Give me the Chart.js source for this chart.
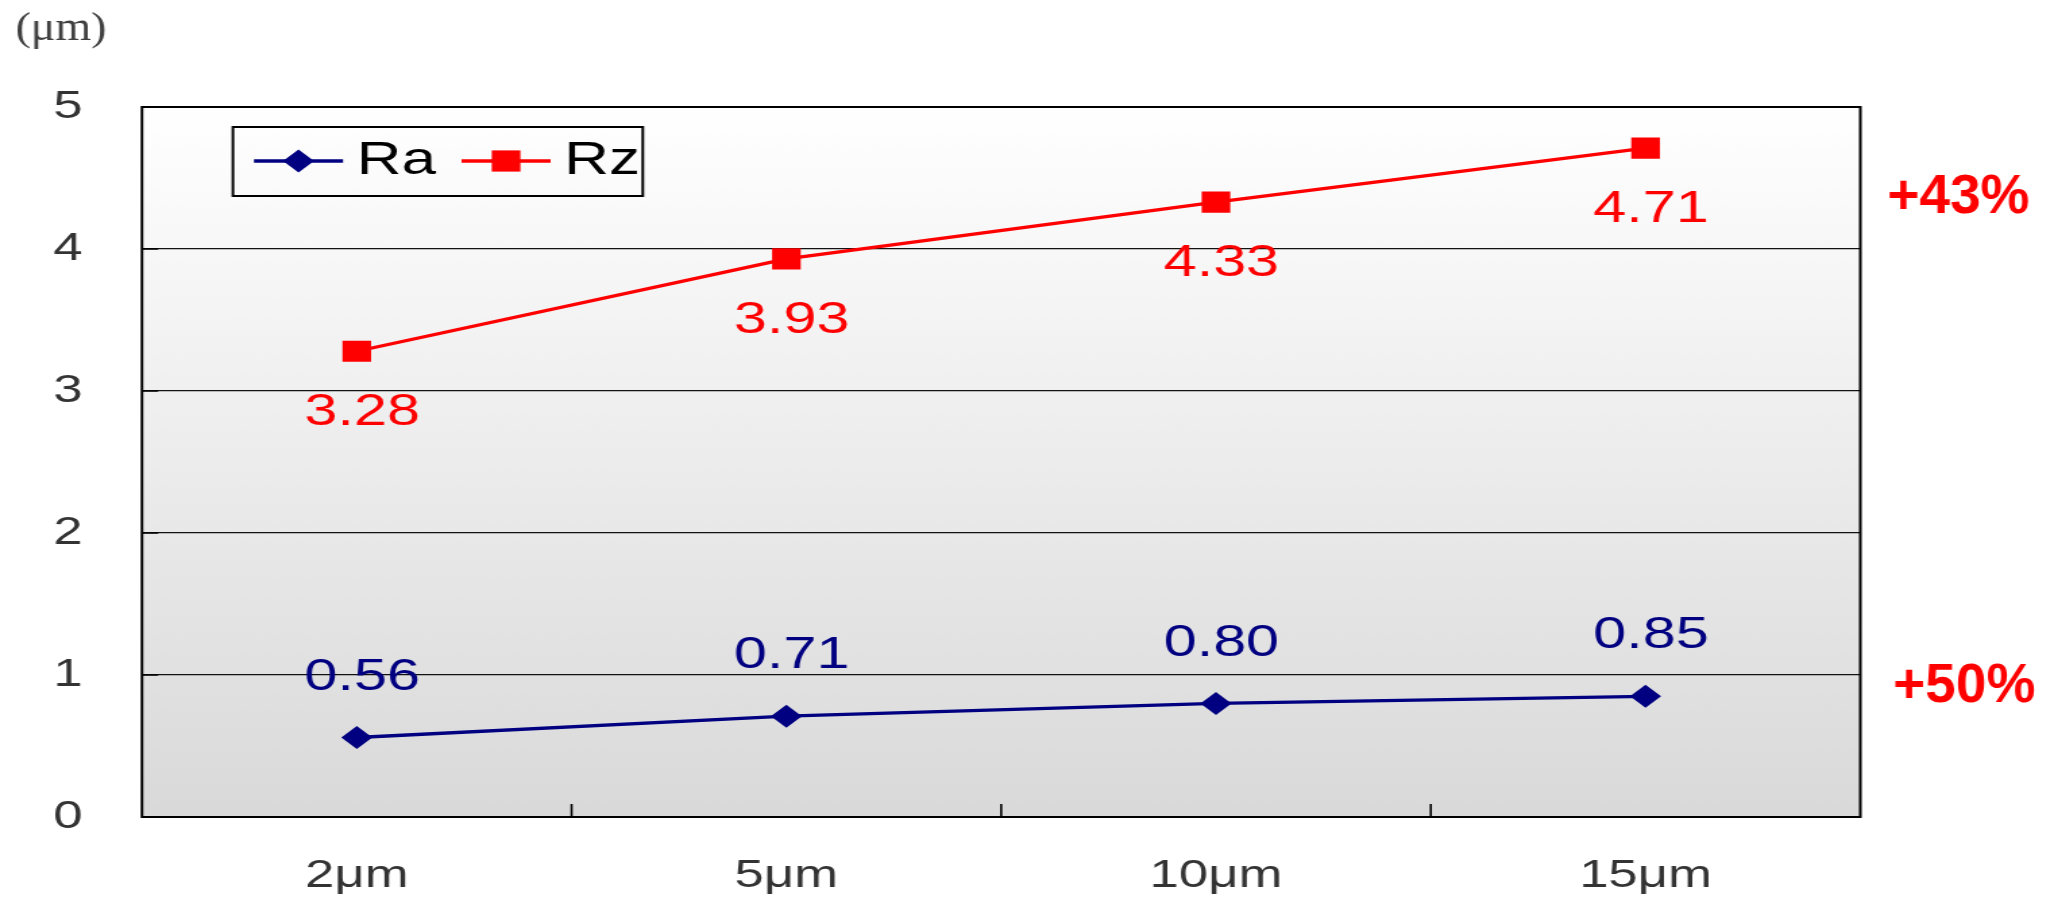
<!DOCTYPE html>
<html>
<head>
<meta charset="utf-8">
<script src="https://cdn.jsdelivr.net/npm/chart.js@4.4.1/dist/chart.umd.min.js"></script>
<style>
  html, body { margin: 0; padding: 0; background: #ffffff; overflow: hidden; }
  /* the chart is laid out on a narrower canvas and widened horizontally */
  #wrap { width: 1522px; height: 900px; transform: scaleX(1.34954); transform-origin: 0 0; }
</style>
</head>
<body>
<div id="wrap"><canvas id="c" width="1522" height="900"></canvas></div>
<script>
// ---- data ----
const categories = ['2μm', '5μm', '10μm', '15μm'];
const raValues = [0.56, 0.71, 0.80, 0.85];
const rzValues = [3.28, 3.93, 4.33, 4.71];
const yTicks = [0, 1, 2, 3, 4, 5];
const seriesNames = ['Ra', 'Rz'];
const changeLabels = ['+50%', '+43%'];   // Ra, Rz: change from first to last step
const unitLabel = '(μm)';

// ---- styling ----
const SX = 2054 / 1522;                    // horizontal widening of the canvas
const SANS = "'Liberation Sans', Arial, sans-serif";
const SERIF = "'Liberation Serif', 'Times New Roman', serif";
const colors = { Ra: '#000080', Rz: '#ff0000' };

const decor = {
  id: 'decor',
  beforeDraw(chart) {
    const { ctx, chartArea: a } = chart;
    const g = ctx.createLinearGradient(0, a.top, 0, a.bottom);
    g.addColorStop(0, '#ffffff');
    g.addColorStop(1, '#d9d9d9');
    ctx.save();
    ctx.fillStyle = g;
    ctx.fillRect(a.left, a.top, a.right - a.left, a.bottom - a.top);
    ctx.restore();
  },
  beforeDatasetsDraw(chart) {
    const { ctx, chartArea: a, scales: { x, y } } = chart;
    ctx.save();
    ctx.strokeStyle = '#000000';
    ctx.lineWidth = 1.6;
    ctx.beginPath();
    // inside tick marks between categories
    for (let i = 1; i < categories.length; i++) {
      const px = (x.getPixelForValue(i - 1) + x.getPixelForValue(i)) / 2;
      ctx.moveTo(px, a.bottom);
      ctx.lineTo(px, a.bottom - 13);
    }
    // inside tick marks on the value axis
    y.ticks.forEach(t => {
      const py = y.getPixelForValue(t.value);
      ctx.moveTo(a.left, py);
      ctx.lineTo(a.left + 12, py);
    });
    ctx.stroke();
    ctx.lineWidth = 2;
    ctx.strokeRect(a.left, a.top, a.right - a.left, a.bottom - a.top);
    ctx.restore();
  },
  afterDatasetsDraw(chart) {
    const { ctx, chartArea: a } = chart;
    ctx.save();

    // value labels: Ra above its points, Rz below
    ctx.font = '44px ' + SANS;
    ctx.textAlign = 'center';
    ctx.textBaseline = 'middle';
    chart.data.datasets.forEach((ds, di) => {
      const meta = chart.getDatasetMeta(di);
      const off = ds.label === 'Rz' ? 62 : -60;
      ctx.fillStyle = ds.borderColor;
      meta.data.forEach((pt, i) => {
        ctx.fillText(ds.data[i].toFixed(2), pt.x + 4, pt.y + off);
      });
    });

    // legend box with line + marker samples
    const L = { x: a.left + 67.4, y: a.top + 20, w: 303.7, h: 69 };
    ctx.strokeStyle = '#000000';
    ctx.lineWidth = 2;
    ctx.strokeRect(L.x, L.y, L.w, L.h);
    ctx.font = '46px ' + SANS;
    ctx.textAlign = 'left';
    let cx = L.x + 15.6;
    const cy = L.y + 34;
    chart.data.datasets.forEach(ds => {
      ctx.strokeStyle = ds.borderColor;
      ctx.fillStyle = ds.backgroundColor;
      ctx.lineWidth = ds.borderWidth;
      ctx.beginPath();
      ctx.moveTo(cx, cy);
      ctx.lineTo(cx + 66, cy);
      ctx.stroke();
      Chart.helpers.drawPoint(ctx, {
        pointStyle: ds.pointStyle, rotation: 0, radius: ds.pointRadius, borderWidth: 0
      }, cx + 33, cy);
      ctx.fillStyle = '#000000';
      ctx.fillText(ds.label, cx + 76, cy);
      cx += 76 + ctx.measureText(ds.label).width + 19;
    });

    // change annotations to the right of the plot, drawn unwidened
    ctx.font = 'bold 55px ' + SANS;
    ctx.fillStyle = '#ff0000';
    ctx.textAlign = 'center';
    const notes = [
      { di: 0, dx: 77, dy: -9 },
      { di: 1, dx: 72.6, dy: 50 }
    ];
    notes.forEach(n => {
      const meta = chart.getDatasetMeta(n.di);
      const last = meta.data[meta.data.length - 1];
      ctx.save();
      ctx.translate(a.right + n.dx, last.y + n.dy);
      ctx.scale(1 / SX, 1);
      ctx.fillText(changeLabels[n.di], 0, 0);
      ctx.restore();
    });

    // unit label above the value axis (only slightly widened)
    ctx.font = '40px ' + SERIF;
    ctx.fillStyle = '#404040';
    ctx.save();
    ctx.translate(a.left - 60, a.top - 78);
    ctx.scale(1.15 / SX, 1);
    ctx.fillText(unitLabel, 0, 0);
    ctx.restore();
    ctx.restore();
  }
};

new Chart(document.getElementById('c'), {
  type: 'line',
  data: {
    labels: categories,
    datasets: [
      {
        label: seriesNames[0], data: raValues,
        borderColor: colors.Ra, backgroundColor: colors.Ra, borderWidth: 3.3,
        pointStyle: 'rectRot', pointRadius: 11.5, pointBorderWidth: 0, tension: 0
      },
      {
        label: seriesNames[1], data: rzValues,
        borderColor: colors.Rz, backgroundColor: colors.Rz, borderWidth: 3.3,
        pointStyle: 'rect', pointRadius: 15, pointBorderWidth: 0, tension: 0
      }
    ]
  },
  options: {
    responsive: false,
    animation: false,
    layout: { padding: { top: 107, right: 143.5, left: 0, bottom: 0 } },
    plugins: { legend: { display: false }, tooltip: { enabled: false } },
    scales: {
      x: {
        type: 'category',
        offset: true,
        grid: { display: false, drawTicks: false },
        border: { display: false },
        ticks: { color: '#333333', font: { family: SANS, size: 39 }, padding: 36, maxRotation: 0 },
        afterFit: s => { s.height = 83; }
      },
      y: {
        min: yTicks[0],
        max: yTicks[yTicks.length - 1],
        ticks: { stepSize: yTicks[1] - yTicks[0], color: '#333333', font: { family: SANS, size: 39 }, padding: 44 },
        grid: { color: '#111111', lineWidth: 1.2, drawTicks: false },
        border: { display: false },
        afterFit: s => { s.width = 105.2; }
      }
    }
  },
  plugins: [decor]
});
</script>
</body>
</html>
